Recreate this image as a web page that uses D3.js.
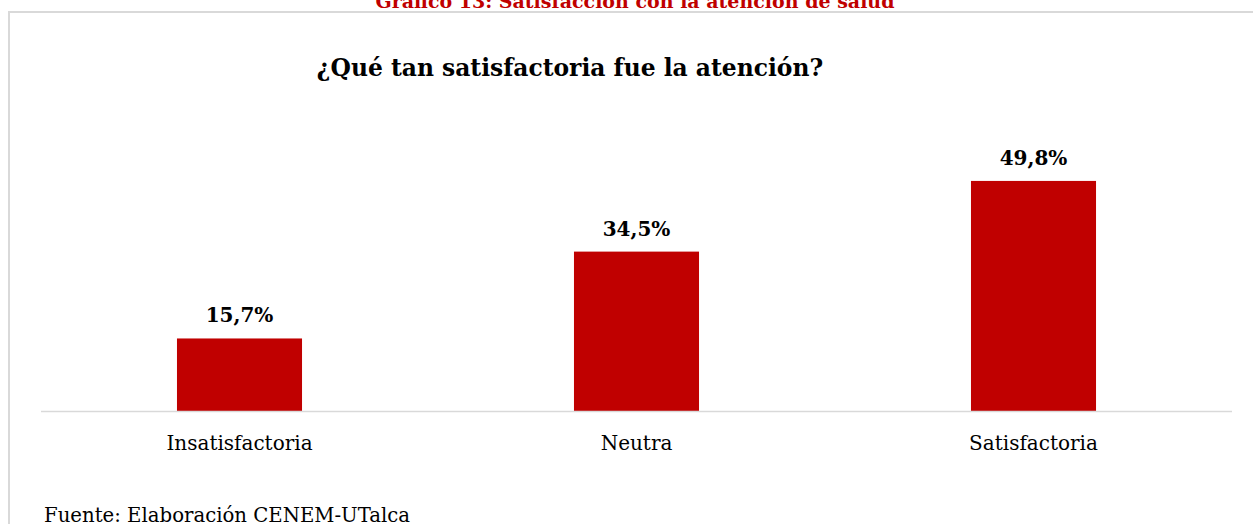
<!DOCTYPE html>
<html><head><meta charset="utf-8">
<script src="https://cdn.jsdelivr.net/npm/d3@7/dist/d3.min.js"></script>
<style>html,body{margin:0;padding:0;background:#fff;overflow:hidden}</style>
</head><body><div id="c"></div>
<script>
const categories = ["Insatisfactoria", "Neutra", "Satisfactoria"];
const values = [15.7, 34.5, 49.8];
const valueLabels = ["15,7%", "34,5%", "49,8%"];
const figureTitle = "Gráfico 13: Satisfacción con la atención de salud";
const chartTitle = "¿Qué tan satisfactoria fue la atención?";
const sourceText = "Fuente: Elaboración CENEM-UTalca";

const W = 1253, H = 524;
const font = "'DejaVu Serif', 'Liberation Serif', serif";
const red = "#c00000";

const svg = d3.select("#c").append("svg").attr("width", W).attr("height", H)
  .style("font-family", font);
svg.append("rect").attr("width", W).attr("height", H).attr("fill", "#fff");

// frame
svg.append("path").attr("d", "M9,524V12H1253").attr("fill", "none")
  .attr("stroke", "#d9d9d9").attr("stroke-width", 2);

// figure title (cut off at top, as in the source)
svg.append("text").attr("x", 635).attr("y", 7.5).attr("text-anchor", "middle")
  .attr("font-weight", "bold").attr("font-size", 19).attr("fill", red).text(figureTitle);

svg.append("text").attr("x", 570).attr("y", 76).attr("text-anchor", "middle")
  .attr("font-weight", "bold").attr("font-size", 23.4).attr("fill", "#000").text(chartTitle);

const x = d3.scaleBand().domain(categories).range([41, 1232]).paddingInner(0.685).paddingOuter(0.3425);
const y = d3.scaleLinear().domain([0, 60]).range([411, 133.8]);

svg.selectAll("rect.bar").data(values).join("rect").attr("class", "bar")
  .attr("x", (d, i) => x(categories[i])).attr("width", x.bandwidth())
  .attr("y", d => y(d)).attr("height", d => y(0) - y(d)).attr("fill", red);

svg.selectAll("text.val").data(values).join("text").attr("class", "val")
  .attr("x", (d, i) => x(categories[i]) + x.bandwidth() / 2)
  .attr("y", d => y(d) - 16).attr("text-anchor", "middle")
  .attr("font-weight", "bold").attr("font-size", 20).attr("fill", "#000")
  .text((d, i) => valueLabels[i]);

// baseline axis
const xAxis = d3.axisBottom(x).tickSize(0).tickPadding(0);
const gx = svg.append("g").attr("transform", `translate(0,${y(0)})`).call(xAxis);
gx.select(".domain").attr("d", "M41,0.5H1232").attr("stroke", "#d9d9d9").attr("stroke-width", 1.5);
gx.selectAll(".tick text").attr("font-family", font).attr("font-size", 20).attr("fill", "#000")
  .attr("dy", null).attr("y", 39);

svg.append("text").attr("x", 44).attr("y", 522).attr("font-size", 19.7).attr("fill", "#000").text(sourceText);
</script></body></html>
